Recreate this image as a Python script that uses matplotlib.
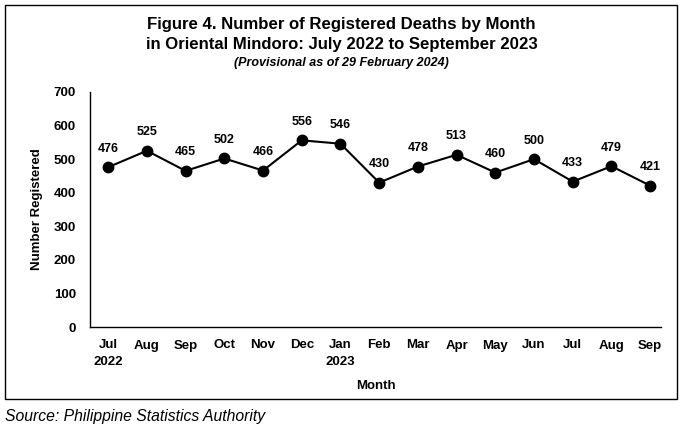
import matplotlib
matplotlib.use("Agg")
import matplotlib.pyplot as plt
from matplotlib.patches import Rectangle

plt.rcParams['font.family'] = ['Liberation Sans', 'DejaVu Sans']

months = ["Jul\n2022", "Aug", "Sep", "Oct", "Nov", "Dec", "Jan\n2023", "Feb",
          "Mar", "Apr", "May", "Jun", "Jul", "Aug", "Sep"]
deaths = [476, 525, 465, 502, 466, 556, 546, 430, 478, 513, 460, 500, 433, 479, 421]
yticks = [0, 100, 200, 300, 400, 500, 600, 700]

W, H = 683, 429
fig = plt.figure(figsize=(W/100, H/100), dpi=100)
ax = fig.add_axes([90/W, 1-327/H, (661-90)/W, (327-92)/H])

x = list(range(len(months)))
ax.plot(x, deaths, color='black', lw=1.5, marker='o', ms=7.5, zorder=3)
for xi, v in zip(x, deaths):
    ax.annotate(str(v), (xi, v), xytext=(0, 9), textcoords='offset points',
                ha='center', va='bottom', fontsize=9, fontweight='bold')

ax.set_xlim(-0.47, 14.28)
ax.set_ylim(0, 700)
ax.set_yticks(yticks)
ax.set_yticklabels([str(t) for t in yticks], fontsize=9.5, fontweight='bold')
ax.set_xticks(x)
ax.set_xticklabels(months, fontsize=9.5, fontweight='bold', linespacing=1.45)
ax.tick_params(axis='y', length=0, pad=10)
ax.tick_params(axis='x', length=0, pad=9)
for s in ['top', 'right']:
    ax.spines[s].set_visible(False)
for s in ['left', 'bottom']:
    ax.spines[s].set_linewidth(1.0)

ax.set_ylabel("Number Registered", fontsize=9.5, fontweight='bold', labelpad=8)
ax.set_xlabel("Month", fontsize=9.5, fontweight='bold', labelpad=9)

fig.text(0.5, 1-25/H, "Figure 4. Number of Registered Deaths by Month",
         ha='center', va='center', fontsize=12.1, fontweight='bold')
fig.text(0.5, 1-45/H, "in Oriental Mindoro: July 2022 to September 2023",
         ha='center', va='center', fontsize=12.1, fontweight='bold')
fig.text(0.5, 1-63/H, "(Provisional as of 29 February 2024)",
         ha='center', va='center', fontsize=9, fontweight='bold', style='italic')

fig.patches.append(Rectangle((5/W, 1-399/H), (677-5)/W, (399-5)/H,
                             transform=fig.transFigure, fill=False,
                             edgecolor='black', lw=1.0))
fig.text(5/W, 1-416/H, "Source: Philippine Statistics Authority",
         ha='left', va='center', fontsize=11.3, style='italic')

fig.savefig("out.png", dpi=100)
